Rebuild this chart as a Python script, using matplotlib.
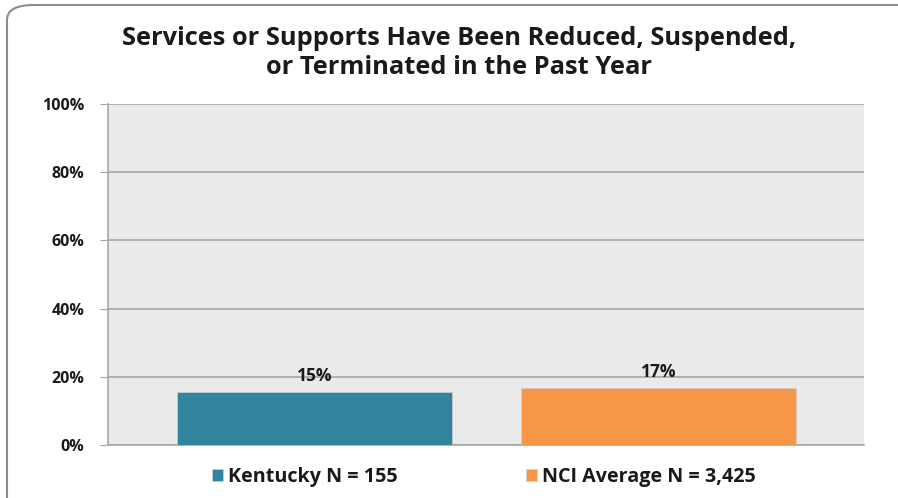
import matplotlib
matplotlib.use("Agg")
import matplotlib.pyplot as plt
from matplotlib.patches import FancyBboxPatch

# data
series = ["Kentucky N = 155", "NCI Average N = 3,425"]
values = [15.6, 16.6]
value_labels = ["15%", "17%"]
colors = ["#31849B", "#F79646"]
yticks = [0, 20, 40, 60, 80, 100]

plt.rcParams['font.family'] = ['Open Sans', 'DejaVu Sans']

fig = plt.figure(figsize=(8.98, 4.98), dpi=100)
W, H = 898, 498

# rounded frame around the chart
frame = FancyBboxPatch((7 / W, -20 / H), (W + 20) / W, (H + 15) / H,
                       boxstyle="round,pad=0,rounding_size=0.03",
                       transform=fig.transFigure, facecolor="white",
                       edgecolor="#8c8c8c", linewidth=1.5, zorder=-1)
fig.patches.append(frame)

ax = fig.add_axes([108 / W, 1 - 445 / H, (864 - 108) / W, (445 - 104) / H])
ax.set_facecolor("#EAEAEA")

bars = ax.bar(range(len(series)), values, width=0.8, color=colors,
              edgecolor="#d0d0d0", linewidth=0.5, label=series, zorder=3)

for b, lab in zip(bars, value_labels):
    ax.annotate(lab, (b.get_x() + b.get_width() / 2, b.get_height()),
                xytext=(0, 11.5), textcoords="offset points", ha="center",
                va="center", fontsize=12.5, fontweight="bold", color="#1a1a1a")

ax.set_xlim(-0.6, 1.597)
ax.set_ylim(0, 100)
ax.set_yticks(yticks)
ax.set_yticklabels([f"{t}%" for t in yticks], fontsize=11.5, fontweight="bold",
                   color="#1a1a1a")
ax.set_xticks([])
ax.yaxis.grid(True, color="#a6a6a6", linewidth=1.2, zorder=0)
ax.set_axisbelow(True)
ax.tick_params(axis="y", length=6, color="#a6a6a6", pad=11)
for s in ["top", "right"]:
    ax.spines[s].set_visible(False)
ax.spines["left"].set_color("#a6a6a6")
ax.spines["bottom"].set_color("#a6a6a6")
ax.spines["left"].set_linewidth(1.2)
ax.spines["bottom"].set_linewidth(1.2)

fig.text(459 / W, 1 - 53 / H,
         "Services or Supports Have Been Reduced, Suspended,\nor Terminated in the Past Year",
         ha="center", va="center", fontsize=18.3, fontweight="bold",
         linespacing=1.25, color="#1a1a1a")

leg = fig.legend(handles=bars, labels=series, loc="center",
                 bbox_to_anchor=(484 / W, 1 - 477 / H), ncol=2, frameon=False,
                 prop={"size": 14.2, "weight": "bold"}, handlelength=0.55,
                 handleheight=0.55, handletextpad=0.25, columnspacing=6.5)
for t in leg.get_texts():
    t.set_color("#1a1a1a")

fig.savefig("out.png", dpi=100)
